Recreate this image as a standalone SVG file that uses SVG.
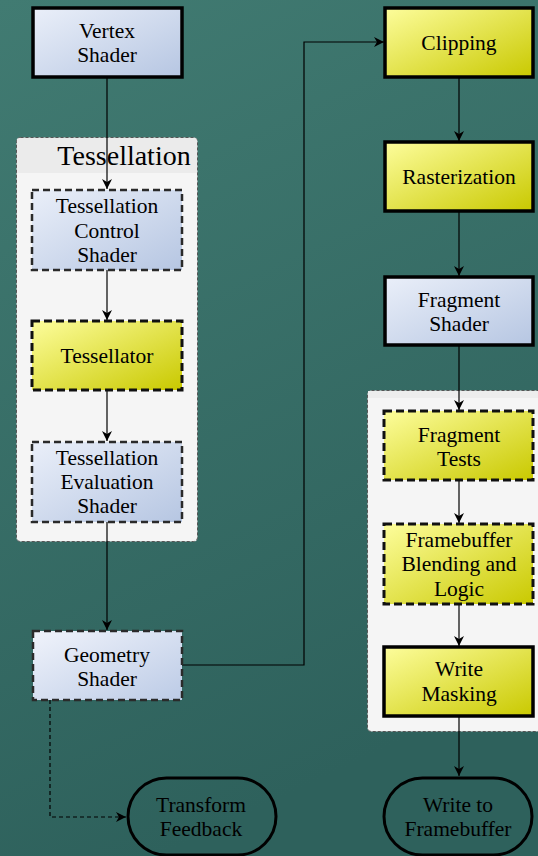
<svg xmlns="http://www.w3.org/2000/svg" width="538" height="856" viewBox="0 0 538 856">
<defs>
<linearGradient id="bg" x1="0" y1="0" x2="0.3" y2="1">
<stop offset="0" stop-color="#417b72"/>
<stop offset="1" stop-color="#2e615c"/>
</linearGradient>
<linearGradient id="blue" x1="0" y1="0" x2="1" y2="1">
<stop offset="0" stop-color="#eaeff9"/>
<stop offset="1" stop-color="#b6c6e2"/>
</linearGradient>
<linearGradient id="blue2" x1="0" y1="0" x2="1" y2="1">
<stop offset="0" stop-color="#f0f3fb"/>
<stop offset="1" stop-color="#bccbe6"/>
</linearGradient>
<linearGradient id="yellow" x1="0" y1="0" x2="1" y2="1">
<stop offset="0" stop-color="#fdfd9c"/>
<stop offset="1" stop-color="#c9c900"/>
</linearGradient>
<marker id="arr" viewBox="0 0 10 10" refX="10" refY="5" markerWidth="10" markerHeight="10" markerUnits="userSpaceOnUse" orient="auto">
<path d="M0,0 L10,5 L0,10 L3,5 Z" fill="#000"/>
</marker>
</defs>
<rect x="0" y="0" width="538" height="856" fill="url(#bg)"/>

<g id="tessellation-group">
<rect x="16.5" y="137.5" width="181" height="404" rx="4" fill="#f5f5f5" stroke="#555" stroke-width="1" stroke-dasharray="3 2"/>
<path d="M17,173 V141 Q17,138 20,138 H194 Q197,138 197,141 V173 Z" fill="#ebebeb"/>
<text x="124" y="165" font-family="Liberation Serif" font-size="28" text-anchor="middle" style="font-family:Liberation Serif,serif !important">Tessellation</text>
</g>
<g id="fragment-group">
<rect x="367.5" y="390.5" width="180" height="341" rx="4" fill="#f5f5f5" stroke="#555" stroke-width="1" stroke-dasharray="3 2"/>
<rect x="368" y="391" width="170" height="7" fill="#ededed"/>
</g>

<g id="connectors" fill="none" stroke="#000" stroke-width="1.2">
<path d="M107,77 V189" marker-end="url(#arr)"/>
<path d="M107,270 V320" marker-end="url(#arr)"/>
<path d="M107,390 V441" marker-end="url(#arr)"/>
<path d="M107,522 V630" marker-end="url(#arr)"/>
<path d="M182,665 H304 V42 H384" marker-end="url(#arr)"/>
<path d="M50,700 V817 H126" stroke-dasharray="4 3" marker-end="url(#arr)"/>
<path d="M459,77 V141" marker-end="url(#arr)"/>
<path d="M459,211 V276" marker-end="url(#arr)"/>
<path d="M459,345 V410" marker-end="url(#arr)"/>
<path d="M459,480 V523" marker-end="url(#arr)"/>
<path d="M459,604 V646" marker-end="url(#arr)"/>
<path d="M459,716 V776" marker-end="url(#arr)"/>
</g>

<g id="vertex-shader">
<rect x="33" y="8" width="149" height="69" fill="url(#blue)" stroke="#000" stroke-width="3.5"/>
<text font-family="Liberation Serif" font-size="21.5" text-anchor="middle" style="font-family:Liberation Serif,serif !important" x="107" y="38">Vertex</text>
<text font-family="Liberation Serif" font-size="21.5" text-anchor="middle" style="font-family:Liberation Serif,serif !important" x="107" y="62">Shader</text>
</g>
<g id="tess-control-shader">
<rect x="32" y="190" width="150" height="80" fill="url(#blue)" stroke="#2a2a2a" stroke-width="2.5" stroke-dasharray="7 4"/>
<text font-family="Liberation Serif" font-size="21.5" text-anchor="middle" style="font-family:Liberation Serif,serif !important" x="107" y="213">Tessellation</text>
<text font-family="Liberation Serif" font-size="21.5" text-anchor="middle" style="font-family:Liberation Serif,serif !important" x="107" y="238">Control</text>
<text font-family="Liberation Serif" font-size="21.5" text-anchor="middle" style="font-family:Liberation Serif,serif !important" x="107" y="262">Shader</text>
</g>
<g id="tessellator">
<rect x="32" y="321" width="150" height="69" fill="url(#yellow)" stroke="#111" stroke-width="3" stroke-dasharray="8 4"/>
<text font-family="Liberation Serif" font-size="21.5" text-anchor="middle" style="font-family:Liberation Serif,serif !important" x="107" y="363">Tessellator</text>
</g>
<g id="tess-eval-shader">
<rect x="32" y="442" width="150" height="80" fill="url(#blue)" stroke="#2a2a2a" stroke-width="2.5" stroke-dasharray="7 4"/>
<text font-family="Liberation Serif" font-size="21.5" text-anchor="middle" style="font-family:Liberation Serif,serif !important" x="107" y="465">Tessellation</text>
<text font-family="Liberation Serif" font-size="21.5" text-anchor="middle" style="font-family:Liberation Serif,serif !important" x="107" y="489">Evaluation</text>
<text font-family="Liberation Serif" font-size="21.5" text-anchor="middle" style="font-family:Liberation Serif,serif !important" x="107" y="513">Shader</text>
</g>
<g id="geometry-shader">
<rect x="33" y="631" width="149" height="69" fill="url(#blue2)" stroke="#2a2a2a" stroke-width="2.5" stroke-dasharray="7 4"/>
<text font-family="Liberation Serif" font-size="21.5" text-anchor="middle" style="font-family:Liberation Serif,serif !important" x="107" y="662">Geometry</text>
<text font-family="Liberation Serif" font-size="21.5" text-anchor="middle" style="font-family:Liberation Serif,serif !important" x="107" y="686">Shader</text>
</g>
<g id="transform-feedback">
<rect x="128" y="778" width="148" height="77" rx="38.5" fill="none" stroke="#000" stroke-width="3"/>
<text font-family="Liberation Serif" font-size="21.5" text-anchor="middle" style="font-family:Liberation Serif,serif !important" x="201" y="812">Transform</text>
<text font-family="Liberation Serif" font-size="21.5" text-anchor="middle" style="font-family:Liberation Serif,serif !important" x="201" y="836">Feedback</text>
</g>
<g id="clipping">
<rect x="385" y="8" width="148" height="69" fill="url(#yellow)" stroke="#000" stroke-width="3.5"/>
<text font-family="Liberation Serif" font-size="21.5" text-anchor="middle" style="font-family:Liberation Serif,serif !important" x="459" y="50">Clipping</text>
</g>
<g id="rasterization">
<rect x="385" y="142" width="148" height="69" fill="url(#yellow)" stroke="#000" stroke-width="3.5"/>
<text font-family="Liberation Serif" font-size="21.5" text-anchor="middle" style="font-family:Liberation Serif,serif !important" x="459" y="184">Rasterization</text>
</g>
<g id="fragment-shader">
<rect x="385" y="277" width="148" height="68" fill="url(#blue)" stroke="#000" stroke-width="3.5"/>
<text font-family="Liberation Serif" font-size="21.5" text-anchor="middle" style="font-family:Liberation Serif,serif !important" x="459" y="307">Fragment</text>
<text font-family="Liberation Serif" font-size="21.5" text-anchor="middle" style="font-family:Liberation Serif,serif !important" x="459" y="331">Shader</text>
</g>
<g id="fragment-tests">
<rect x="384" y="411" width="149" height="69" fill="url(#yellow)" stroke="#111" stroke-width="3" stroke-dasharray="8 4"/>
<text font-family="Liberation Serif" font-size="21.5" text-anchor="middle" style="font-family:Liberation Serif,serif !important" x="459" y="442">Fragment</text>
<text font-family="Liberation Serif" font-size="21.5" text-anchor="middle" style="font-family:Liberation Serif,serif !important" x="459" y="466">Tests</text>
</g>
<g id="framebuffer-blending">
<rect x="384" y="524" width="149" height="80" fill="url(#yellow)" stroke="#111" stroke-width="3" stroke-dasharray="8 4"/>
<text font-family="Liberation Serif" font-size="21.5" text-anchor="middle" style="font-family:Liberation Serif,serif !important" x="459" y="547">Framebuffer</text>
<text font-family="Liberation Serif" font-size="21.5" text-anchor="middle" style="font-family:Liberation Serif,serif !important" x="459" y="571">Blending and</text>
<text font-family="Liberation Serif" font-size="21.5" text-anchor="middle" style="font-family:Liberation Serif,serif !important" x="459" y="596">Logic</text>
</g>
<g id="write-masking">
<rect x="384" y="647" width="149" height="69" fill="url(#yellow)" stroke="#000" stroke-width="3.5"/>
<text font-family="Liberation Serif" font-size="21.5" text-anchor="middle" style="font-family:Liberation Serif,serif !important" x="459" y="676">Write</text>
<text font-family="Liberation Serif" font-size="21.5" text-anchor="middle" style="font-family:Liberation Serif,serif !important" x="459" y="701">Masking</text>
</g>
<g id="write-to-framebuffer">
<rect x="384" y="778" width="148" height="77" rx="38.5" fill="none" stroke="#000" stroke-width="3"/>
<text font-family="Liberation Serif" font-size="21.5" text-anchor="middle" style="font-family:Liberation Serif,serif !important" x="458" y="812">Write to</text>
<text font-family="Liberation Serif" font-size="21.5" text-anchor="middle" style="font-family:Liberation Serif,serif !important" x="458" y="836">Framebuffer</text>
</g>
</svg>
